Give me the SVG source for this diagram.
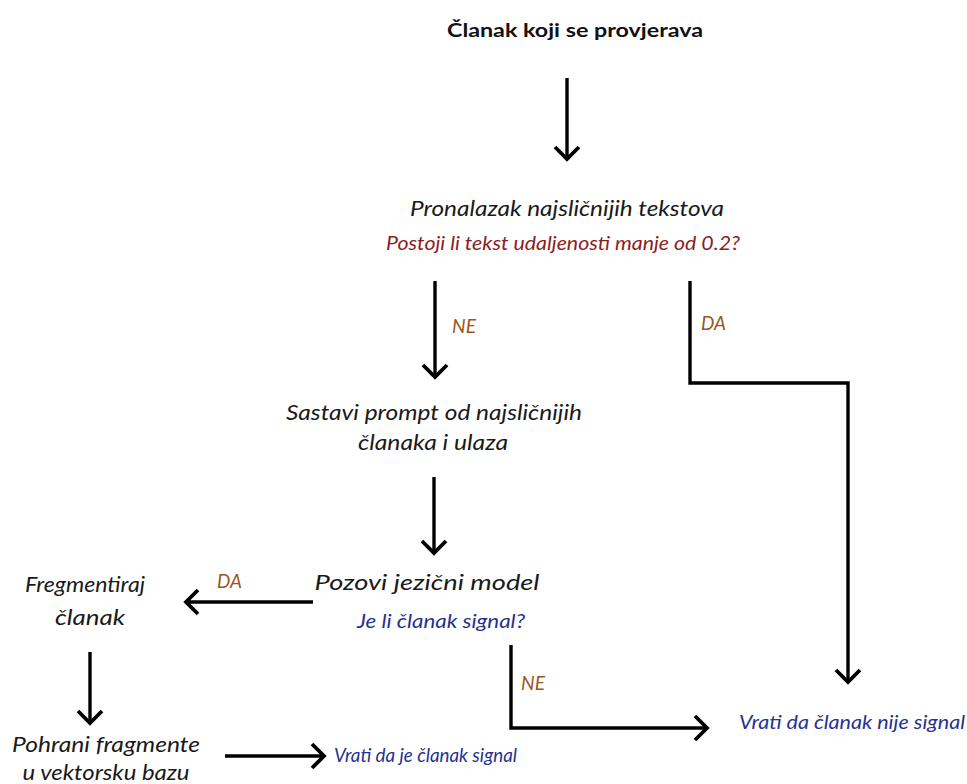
<svg xmlns="http://www.w3.org/2000/svg" width="967" height="784" viewBox="0 0 967 784">
<defs>
<style>
text{font-family:Lato,"Liberation Sans",sans-serif;}
.t{font-size:21px;font-style:italic;fill:#1a1a1a;}
.b{font-size:19px;font-weight:bold;fill:#111;}
.red{font-size:20px;font-style:italic;fill:#8c1d1d;}
.blue{font-size:19.5px;font-style:italic;fill:#25328f;}
.lab{font-size:18.5px;font-style:italic;fill:#9b5620;}
.c{fill:none;stroke:#000;stroke-width:3.4;stroke-linejoin:miter;}
.h{fill:none;stroke:#000;stroke-width:3.8;stroke-linecap:butt;stroke-linejoin:miter;}
</style>
</defs>
<rect width="967" height="784" fill="#fff"/>
<g id="n-start"><text class="b" x="575" y="37" text-anchor="middle" textLength="256" lengthAdjust="spacingAndGlyphs">Članak koji se provjerava</text></g>
<g id="n-search">
<text class="t" x="567" y="216" text-anchor="middle" textLength="314" lengthAdjust="spacingAndGlyphs">Pronalazak najsličnijih tekstova</text>
<text class="red" x="563" y="250" text-anchor="middle" textLength="354" lengthAdjust="spacingAndGlyphs">Postoji li tekst udaljenosti manje od 0.2?</text>
</g>
<g id="n-prompt">
<text class="t" x="434" y="420" text-anchor="middle" textLength="296" lengthAdjust="spacingAndGlyphs">Sastavi prompt od najsličnijih</text>
<text class="t" x="433" y="450" text-anchor="middle" textLength="150" lengthAdjust="spacingAndGlyphs">članaka i ulaza</text>
</g>
<g id="n-model">
<text class="t" x="427" y="590" text-anchor="middle" textLength="225" lengthAdjust="spacingAndGlyphs">Pozovi jezični model</text>
<text class="blue" x="441" y="628" text-anchor="middle" textLength="168" lengthAdjust="spacingAndGlyphs">Je li članak signal?</text>
</g>
<g id="n-frag">
<text class="t" x="85" y="592" text-anchor="middle" textLength="120" lengthAdjust="spacingAndGlyphs">Fregmentiraj</text>
<text class="t" x="90" y="625" text-anchor="middle" textLength="70" lengthAdjust="spacingAndGlyphs">članak</text>
</g>
<g id="n-store">
<text class="t" x="106" y="752" text-anchor="middle" textLength="188" lengthAdjust="spacingAndGlyphs">Pohrani fragmente</text>
<text class="t" x="106" y="780" text-anchor="middle" textLength="167" lengthAdjust="spacingAndGlyphs">u vektorsku bazu</text>
</g>
<g id="n-signal"><text class="blue" x="334" y="762" textLength="183" lengthAdjust="spacingAndGlyphs">Vrati da je članak signal</text></g>
<g id="n-nosignal"><text class="blue" x="739" y="729" textLength="226" lengthAdjust="spacingAndGlyphs">Vrati da članak nije signal</text></g>
<g id="connectors">
<path class="c" d="M567 78V159"/><path class="h" d="M555 147L567 159L579 147"/>
<path class="c" d="M435 281V377"/><path class="h" d="M423 365L435 377L447 365"/>
<text class="lab" x="452" y="333" textLength="24" lengthAdjust="spacingAndGlyphs">NE</text>
<path class="c" d="M690 281V383H848V682"/><path class="h" d="M836 670L848 682L860 670"/>
<text class="lab" x="701" y="330" textLength="25" lengthAdjust="spacingAndGlyphs">DA</text>
<path class="c" d="M434 477V553"/><path class="h" d="M422 541L434 553L446 541"/>
<path class="c" d="M313 602H186"/><path class="h" d="M198 590L186 602L198 614"/>
<text class="lab" x="217" y="588" textLength="25" lengthAdjust="spacingAndGlyphs">DA</text>
<path class="c" d="M90 652V723"/><path class="h" d="M78 711L90 723L102 711"/>
<path class="c" d="M225 756H324"/><path class="h" d="M312 744L324 756L312 768"/>
<path class="c" d="M511 645V728H707"/><path class="h" d="M695 716L707 728L695 740"/>
<text class="lab" x="521" y="690" textLength="24" lengthAdjust="spacingAndGlyphs">NE</text>
</g>
</svg>
